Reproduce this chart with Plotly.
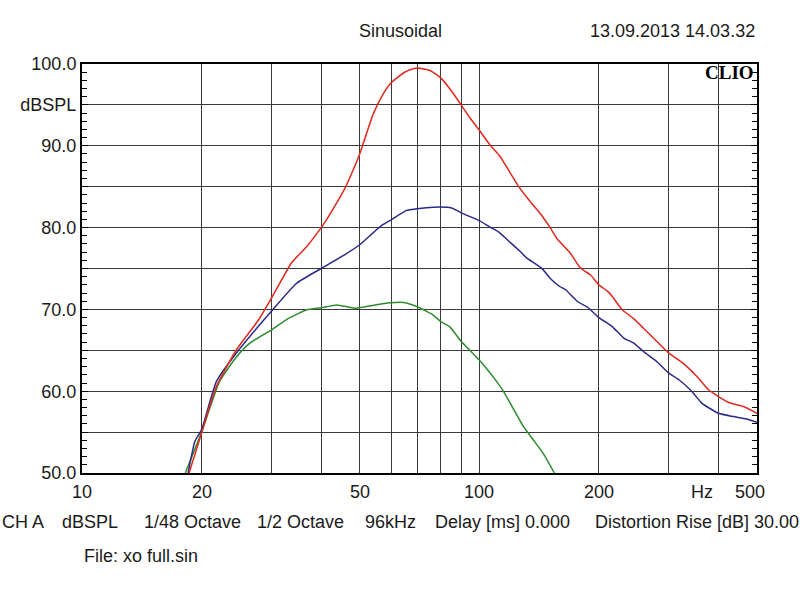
import math
import plotly.graph_objects as go

# ---- data ----
red_f = [18.6, 20, 21.8, 24.5, 27.8, 30, 33.7, 36.8, 40, 41.3, 44.2, 45.9, 48.2, 50, 54.1, 57.4, 60,
         64.4, 66.9, 70, 75.1, 80, 86, 90, 94.8, 100, 106.4, 112.8, 119.6, 125.3, 133.2, 143, 150.5,
         156.6, 169.3, 179.7, 190.6, 200, 210.5, 216, 228.6, 244.3, 258.9, 277.1, 300, 326, 353, 377,
         400, 428, 464, 500]
red_db = [50, 54.9, 60.6, 65.1, 68.7, 71.4, 75.7, 77.7, 80.0, 81.0, 83.4, 84.8, 87.1, 89.0, 93.9, 96.4, 97.7,
          98.9, 99.3, 99.5, 99.2, 98.3, 96.4, 95.0, 93.4, 91.9, 90.1, 88.7, 86.7, 85.1, 83.4, 81.6, 80.05,
          78.7, 76.9, 75.05, 74.2, 73.0, 72.2, 71.6, 70.0, 68.9, 67.7, 66.3, 64.65, 63.4, 61.8, 60.2,
          59.35, 58.55, 58.1, 57.3]

blue_f = [18.5, 19.25, 20, 21.8, 24.5, 30, 34.7, 40, 45.9, 50, 56.2, 60, 65.6, 69.5, 76.6, 85.2, 91,
          100, 106.4, 111.6, 119.6, 126.6, 131.5, 143, 152.3, 159.4, 165, 176.3, 188, 200, 216, 231,
          244.3, 258.9, 280, 300, 318, 342.4, 363, 400, 436, 470, 500]
blue_db = [50, 53.9, 55.3, 61.2, 64.7, 69.8, 73.2, 75.0, 76.7, 77.9, 80.1, 80.95, 82.1, 82.3, 82.5, 82.4, 81.7,
           80.85, 80.05, 79.5, 78.2, 77.1, 76.3, 75.1, 73.6, 72.8, 72.4, 71.0, 70.2, 69.0, 67.9, 66.5,
           65.9, 64.85, 63.6, 62.2, 61.4, 60.0, 58.55, 57.3, 56.9, 56.6, 56.2]

green_f = [18.2, 20, 22.2, 24.5, 26.5, 30, 33.1, 36.8, 40, 43.8, 48.6, 53.2, 59.6, 64.4, 70, 76.6, 80,
           84.2, 90, 100, 110.5, 114.6, 119.6, 129.1, 135.7, 144.8, 154.5]
green_db = [50, 55.0, 61.2, 64.2, 65.9, 67.5, 68.9, 69.95, 70.2, 70.55, 70.15, 70.45, 70.8, 70.85, 70.3, 69.3, 68.5,
            67.9, 66.1, 63.8, 61.2, 60.1, 58.55, 55.7, 54.25, 52.4, 50.0]

x_grid = [20, 30, 40, 50, 60, 70, 80, 90, 100, 200, 300, 400]
x_label_vals = [10, 20, 50, 100, 200, 500]
x_label_text = ["10", "20", "50", "100", "200", "500"]

y_tick_vals = [50, 55, 60, 65, 70, 75, 80, 85, 90, 95, 100]
y_tick_text = ["50.0", "", "60.0", "", "70.0", "", "80.0", "", "90.0", "dBSPL", "100.0"]

footer_items = ["CH A", "dBSPL", "1/48 Octave", "1/2 Octave", "96kHz", "Delay [ms] 0.000",
                "Distortion Rise [dB] 30.00"]
footer_px = [0, 60, 142, 255, 363, 433, 593]

W, H = 800, 598
L, R, T, B = 82, 43, 64, 125
PW = W - L - R
FONT = "Liberation Sans, Arial, sans-serif"

fig = go.Figure()
for f, d, c in [(green_f, green_db, "#2e8b2e"), (blue_f, blue_db, "#2a2a86"), (red_f, red_db, "#e0281e")]:
    fig.add_trace(go.Scatter(x=f, y=d, mode="lines", line=dict(color=c, width=1.5, shape="spline", smoothing=0.5),
                             hoverinfo="skip", showlegend=False))

fig.update_layout(
    width=W, height=H, margin=dict(l=L, r=R, t=T, b=B),
    paper_bgcolor="white", plot_bgcolor="white",
    font=dict(family=FONT, size=18, color="#1a1a1a"),
    showlegend=False,
)
fig.update_xaxes(type="log", range=[1, math.log10(500)], tickmode="array", tickvals=x_grid,
                 showticklabels=False, ticks="", showgrid=True, gridcolor="#3a3a3a", gridwidth=1,
                 showline=True, linecolor="black", linewidth=2, mirror=True, zeroline=False)
fig.update_yaxes(range=[50, 100], tickmode="array", tickvals=y_tick_vals, ticktext=y_tick_text,
                 ticks="inside", ticklen=6, tickcolor="black", showgrid=True, gridcolor="#3a3a3a", gridwidth=1,
                 showline=True, linecolor="black", linewidth=2, mirror="ticks", zeroline=False,
                 tickfont=dict(size=18, family=FONT, color="#1a1a1a"),
                 minor=dict(tickmode="linear", tick0=50, dtick=1, ticks="inside", ticklen=5,
                            tickcolor="black", showgrid=False))

ann = []
def px2paper(px):
    return (px - L) / PW

for v, t in zip(x_label_vals, x_label_text):
    xs = -7 if v == 500 else 0
    ann.append(dict(x=math.log10(v), xref="x", y=0, yref="paper", yshift=-19, xshift=xs, text=t,
                    showarrow=False, xanchor="center", yanchor="middle", font=dict(size=18)))
ann.append(dict(x=px2paper(702), xref="paper", y=0, yref="paper", yshift=-19, text="Hz",
                showarrow=False, xanchor="center", yanchor="middle", font=dict(size=18)))
ann.append(dict(x=px2paper(400), xref="paper", y=1, yref="paper", yshift=33, text="Sinusoidal",
                showarrow=False, xanchor="center", yanchor="middle", font=dict(size=18)))
ann.append(dict(x=1, xref="paper", y=1, yref="paper", yshift=33, text="13.09.2013 14.03.32",
                showarrow=False, xanchor="right", yanchor="middle", font=dict(size=18)))
ann.append(dict(x=1, xref="paper", y=1, yref="paper", yshift=-8, xshift=-1, text="<b>CLIO</b>",
                showarrow=False, xanchor="right", yanchor="middle",
                font=dict(size=19, family="Liberation Serif, Times New Roman, serif", color="black")))
for t, p in zip(footer_items, footer_px):
    ann.append(dict(x=px2paper(p), xref="paper", y=0, yref="paper", yshift=-49, text=t,
                    showarrow=False, xanchor="left", yanchor="middle", font=dict(size=18)))
ann.append(dict(x=px2paper(82), xref="paper", y=0, yref="paper", yshift=-83, text="File: xo full.sin",
                showarrow=False, xanchor="left", yanchor="middle", font=dict(size=18)))
fig.update_layout(annotations=ann)

fig.write_html("out.html", config={"displayModeBar": False, "staticPlot": True},
               post_script="document.body.style.margin='0';document.body.style.overflow='hidden';")
